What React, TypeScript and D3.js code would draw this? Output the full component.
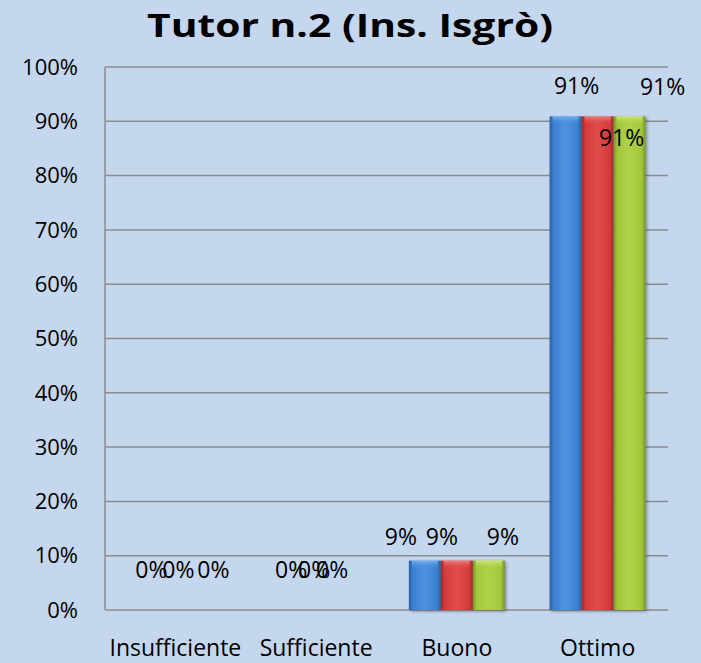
import React from "react";
import * as d3 from "d3";

const categories = ["Insufficiente", "Sufficiente", "Buono", "Ottimo"];
const seriesNames = ["Serie 1", "Serie 2", "Serie 3"];
const serie1 = [0, 0, 0.0909, 0.9091];
const serie2 = [0, 0, 0.0909, 0.9091];
const serie3 = [0, 0, 0.0909, 0.9091];
const labels1 = ["0%", "0%", "9%", "91%"];
const labels2 = ["0%", "0%", "9%", "91%"];
const labels3 = ["0%", "0%", "9%", "91%"];
const yTicks = [0, 0.1, 0.2, 0.3, 0.4, 0.5, 0.6, 0.7, 0.8, 0.9, 1.0];
const title = "Tutor n.2 (Ins. Isgrò)";

// label offsets (layout) relative to the category center / bar top
const labelDx = [
  [-24, -25, -56, -21],
  [3, -2, -15, 65],
  [38, 16, 46, 24],
];
const labelDy = [
  [-40, -40, -24, -30],
  [-40, -40, -24, -29],
  [-40, -40, -24, 22],
];

const W = 701;
const H = 663;
const M = { left: 105, right: 33, top: 67, bottom: 53 };
const FONT = "'Open Sans', sans-serif";

const colors = [
  { dark: "#2a5c9e", mid: "#3a7fd2", light: "#4f93e0", cap: "#7fb8f2" },
  { dark: "#9e2a2a", mid: "#d63a3a", light: "#e04c4c", cap: "#f08a8a" },
  { dark: "#76922a", mid: "#a2c63a", light: "#b0d24a", cap: "#d2ec80" },
];

export default function App() {
  const series = [serie1, serie2, serie3];
  const lbls = [labels1, labels2, labels3];
  const x = d3
    .scaleBand<string>()
    .domain(categories)
    .range([M.left, W - M.right])
    .paddingInner(0)
    .paddingOuter(0);
  const y = d3.scaleLinear().domain([0, 1]).range([H - M.bottom, M.top]);
  const groupW = 96;
  const xs = d3
    .scaleBand<string>()
    .domain(seriesNames)
    .range([-groupW / 2, groupW / 2]);
  const fmt = d3.format(".0%");

  return (
    <svg
      width={W}
      height={H}
      style={{ position: "absolute", left: 0, top: 0, background: "#c5d6ef" }}
    >
      <defs>
        {colors.map((c, i) => (
          <linearGradient key={i} id={`g${i}`} x1="0" x2="1" y1="0" y2="0">
            <stop offset="0" stopColor={c.dark} />
            <stop offset="0.12" stopColor={c.mid} />
            <stop offset="0.5" stopColor={c.light} />
            <stop offset="0.88" stopColor={c.mid} />
            <stop offset="1" stopColor={c.dark} />
          </linearGradient>
        ))}
        {colors.map((c, i) => (
          <linearGradient key={`c${i}`} id={`cap${i}`} x1="0" x2="0" y1="0" y2="1">
            <stop offset="0" stopColor={c.cap} stopOpacity="0.9" />
            <stop offset="1" stopColor={c.mid} stopOpacity="0" />
          </linearGradient>
        ))}
        <filter id="sh" x="-20%" y="-5%" width="140%" height="115%">
          <feDropShadow dx="1.5" dy="1.5" stdDeviation="1.5" floodColor="#000" floodOpacity="0.35" />
        </filter>
      </defs>
      <rect x={0} y={0} width={W} height={H} fill="#c5d6ef" />
      <text
        x={350}
        y={37}
        textAnchor="middle"
        fontFamily={FONT}
        fontWeight="bold"
        fontSize={33}
        textLength={406}
        lengthAdjust="spacingAndGlyphs"
        fill="#000"
      >
        {title}
      </text>
      {yTicks.map((t) => (
        <g key={t}>
          <line
            x1={M.left}
            x2={W - M.right}
            y1={y(t)}
            y2={y(t)}
            stroke="#8c8c8c"
            strokeWidth={1.5}
          />
          <text
            x={78}
            y={y(t)}
            dy="0.35em"
            textAnchor="end"
            fontFamily={FONT}
            fontSize={22}
            fill="#000"
          >
            {fmt(t)}
          </text>
        </g>
      ))}
      <line
        x1={M.left}
        x2={M.left}
        y1={y(1)}
        y2={y(0)}
        stroke="#8c8c8c"
        strokeWidth={1.5}
      />
      {categories.map((c, ci) => (
        <g key={c}>
          {series.map((s, si) => {
            const v = s[ci];
            if (v <= 0) return null;
            const bx = (x(c) as number) + x.bandwidth() / 2 + (xs(seriesNames[si]) as number);
            const bw = xs.bandwidth();
            const top = y(v);
            const h = y(0) - top;
            return (
              <g key={si} filter="url(#sh)">
                <rect x={bx} y={top} width={bw} height={h} fill={`url(#g${si})`} />
                <rect x={bx + 3} y={top} width={bw - 6} height={Math.min(9, h)} fill={`url(#cap${si})`} />
              </g>
            );
          })}
          <text
            x={(x(c) as number) + x.bandwidth() / 2}
            y={H - 7}
            textAnchor="middle"
            fontFamily={FONT}
            fontSize={23}
            fill="#000"
          >
            {c}
          </text>
        </g>
      ))}
      {categories.map((c, ci) =>
        series.map((s, si) => (
          <text
            key={`${ci}-${si}`}
            x={(x(c) as number) + x.bandwidth() / 2 + labelDx[si][ci]}
            y={y(s[ci]) + labelDy[si][ci]}
            dy="0.35em"
            textAnchor="middle"
            fontFamily={FONT}
            fontSize={23}
            fill="#000"
          >
            {lbls[si][ci]}
          </text>
        ))
      )}
    </svg>
  );
}
